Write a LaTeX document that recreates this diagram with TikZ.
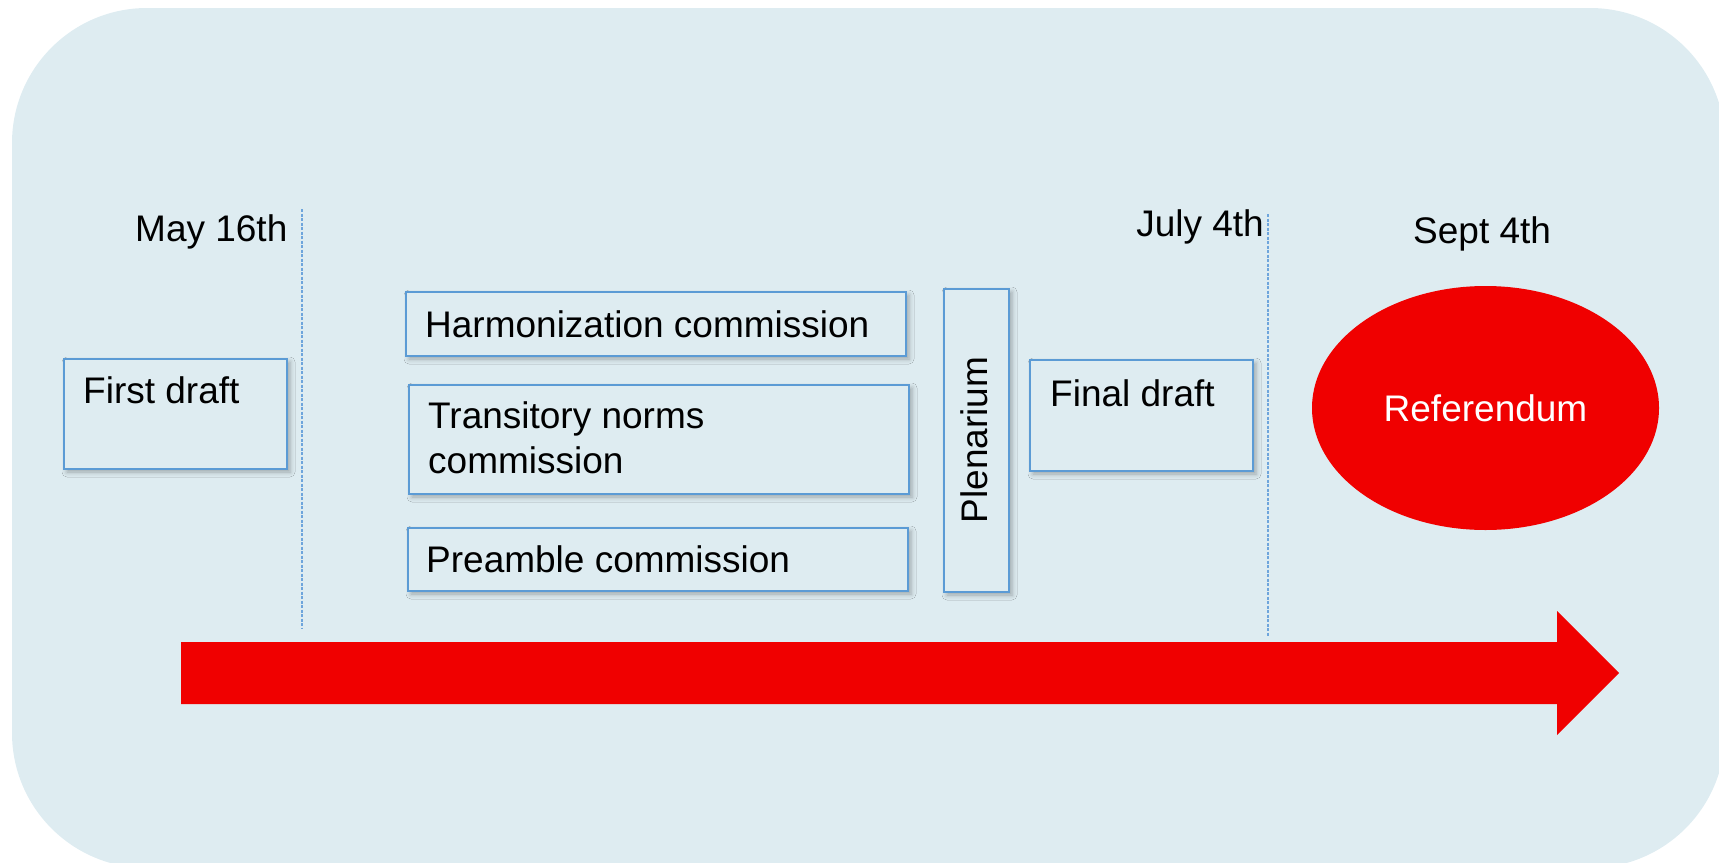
\documentclass[tikz,border=0pt]{standalone}
\usepackage{fontspec}
\setmainfont{Liberation Sans}
\usetikzlibrary{shapes.geometric,shadows.blur}
\definecolor{bgc}{RGB}{222,236,241}
\definecolor{boxc}{RGB}{91,155,213}
\definecolor{redc}{RGB}{240,0,0}
\definecolor{dashc}{RGB}{110,165,220}
\tikzset{
  stagebox/.style={draw=boxc, line width=2bp, fill=bgc, anchor=north west, inner sep=0pt,
    blur shadow={shadow xshift=3bp, shadow yshift=-3bp, shadow blur radius=5bp, shadow opacity=30}},
  lbl/.style={font=\fontsize{37bp}{45bp}\selectfont, inner sep=0pt, text=black},
  dateline/.style={draw=dashc, line width=1.5bp, dash pattern=on 3bp off 1.5bp},
}
\begin{document}
\begin{tikzpicture}[x=1bp,y=-1bp]
\useasboundingbox (0,0) rectangle (1719,862);
\clip (0,0) rectangle (1719,862);
\fill[bgc, rounded corners=135bp] (12,8) rectangle (1725,868);

% date lines
\coordinate (m1) at (302,209);
\coordinate (m2) at (302,628);
\coordinate (j1) at (1268,214);
\coordinate (j2) at (1268,637);
\draw[dateline] (m1) -- (m2);
\draw[dateline] (j1) -- (j2);

% date labels
\node[lbl, anchor=base west] (may) at (135,241) {May 16th};
\node[lbl, anchor=base east] (july) at (1264,236) {July 4th};
\node[lbl, anchor=base west] (sept) at (1413,243) {Sept 4th};

% boxes
\node[stagebox, minimum width=223bp, minimum height=110bp] (first) at (63,358) {};
\node[lbl, anchor=base west] (firstT) at (83,403) {First draft};

\node[stagebox, minimum width=500bp, minimum height=64bp] (harm) at (405,291) {};
\node[lbl, anchor=base west] (harmT) at (425,337) {Harmonization commission};

\node[stagebox, minimum width=500bp, minimum height=109bp] (trans) at (408,384) {};
\node[lbl, anchor=base west] (transT1) at (428,428) {Transitory norms};
\node[lbl, anchor=base west] (transT2) at (428,473) {commission};

\node[stagebox, minimum width=500bp, minimum height=63bp] (pre) at (407,527) {};
\node[lbl, anchor=base west] (preT) at (426,572) {Preamble commission};

\node[stagebox, minimum width=65bp, minimum height=303bp] (plen) at (943,288) {};
\node[lbl, rotate=90, anchor=base] (plenT) at (987,440) {Plenarium};

\node[stagebox, minimum width=223bp, minimum height=111bp] (final) at (1029,359) {};
\node[lbl, anchor=base west] (finalT) at (1050,406) {Final draft};

% referendum
\node[ellipse, fill=redc, minimum width=347bp, minimum height=244bp, lbl, text=white] (ref) at (1485.5,408) {Referendum};

% timeline arrow
\fill[redc] (181,642) -- (1557,642) -- (1557,611) -- (1619,673) -- (1557,735) -- (1557,704) -- (181,704) -- cycle;
\end{tikzpicture}
\end{document}
